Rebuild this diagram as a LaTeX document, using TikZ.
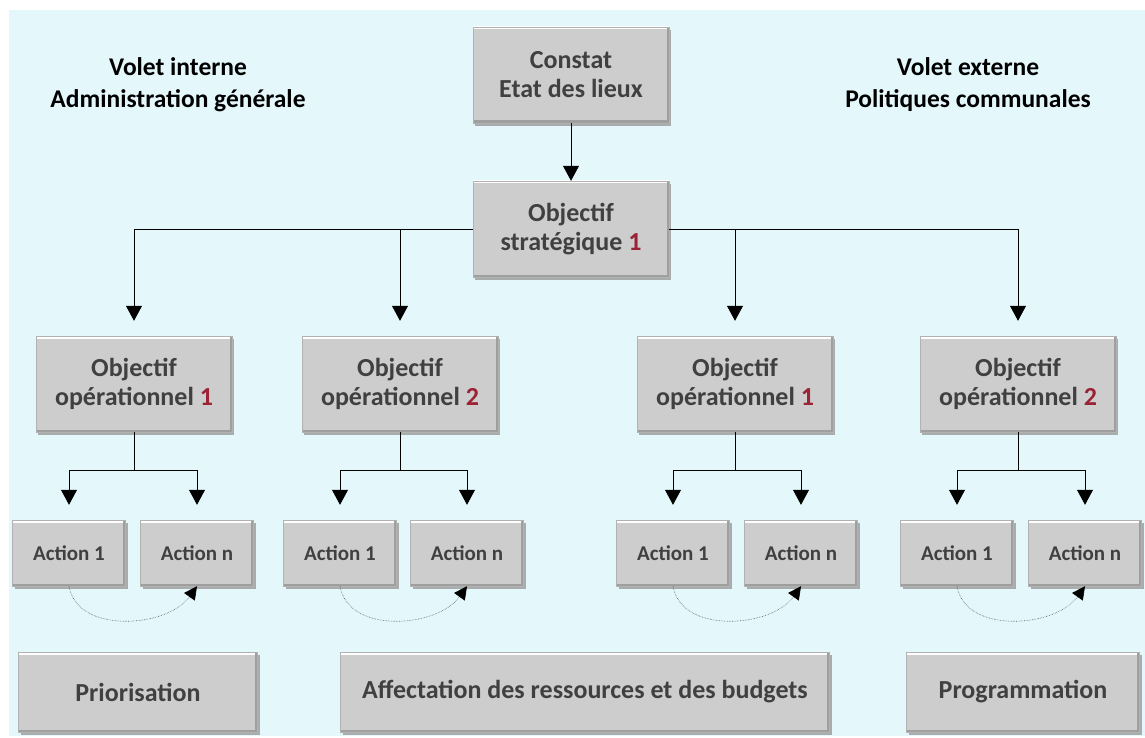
\documentclass[tikz,border=0pt]{standalone}
\usepackage{fontspec}
\setmainfont{Carlito}
\usetikzlibrary{arrows.meta,shadows}
\definecolor{bgcyan}{HTML}{E4F8FC}
\definecolor{boxgray}{HTML}{CDCDCD}
\definecolor{boxtext}{HTML}{404040}
\definecolor{numred}{HTML}{9B2335}
\tikzset{
    box/.style={draw=gray!60, fill=boxgray, text=boxtext, font=\bfseries\fontsize{26}{29}\selectfont,
        align=center, minimum width=196pt, minimum height=96pt, inner sep=0pt,
        drop shadow={shadow xshift=2pt, shadow yshift=-3pt, fill=gray!80, opacity=.8},
        path picture={
            \draw[white, line width=5pt] (path picture bounding box.north west) -- (path picture bounding box.north east);
            \draw[gray!75, line width=5pt] (path picture bounding box.north east) -- (path picture bounding box.south east)
                -- (path picture bounding box.south west);
        }},
    actbox/.style={box, font=\bfseries\fontsize{21}{24}\selectfont, minimum width=113pt, minimum height=66pt},
    bigbox/.style={box, minimum height=80pt},
    heading/.style={align=center, font=\bfseries\fontsize{25.5}{32}\selectfont},
    arr/.style={-{Triangle[width=16pt,length=15pt]}, thick, shorten >=15pt},
    loop arrow/.style={-{Triangle[width=13pt,length=13pt,color=black]}, gray!70!black, densely dotted, semithick},
}
\newcommand{\num}[1]{\textcolor{numred}{#1}}
\begin{document}
\begin{tikzpicture}[x=1pt, y=-1pt]
        %background
        \useasboundingbox (0, 0) rectangle (1145, 738);
        \fill[bgcyan] (9, 10) rectangle (1145, 736);
        %headings
        \node[heading] (intern) at (178, 85) {Volet interne\\Administration générale};
        \node[heading] (extern) at (968, 85) {Volet externe\\Politiques communales};
        %top boxes
        \node[box] (constat) at (571, 75) {Constat\\Etat des lieux};
        \node[box] (strat) at (571, 229) {Objectif\\stratégique \num{1}};
        %operational objectives
        \node[box] (op1) at (134, 384) {Objectif\\opérationnel \num{1}};
        \node[box] (op2) at (400, 384) {Objectif\\opérationnel \num{2}};
        \node[box] (op3) at (735, 384) {Objectif\\opérationnel \num{1}};
        \node[box] (op4) at (1018, 384) {Objectif\\opérationnel \num{2}};
        %actions
        \node[actbox] (a11) at (69, 553) {Action 1};
        \node[actbox] (a1n) at (197, 553) {Action n};
        \node[actbox] (a21) at (340, 553) {Action 1};
        \node[actbox] (a2n) at (467, 553) {Action n};
        \node[actbox] (a31) at (673, 553) {Action 1};
        \node[actbox] (a3n) at (801, 553) {Action n};
        \node[actbox] (a41) at (957, 553) {Action 1};
        \node[actbox] (a4n) at (1085, 553) {Action n};
        %bottom boxes
        \node[bigbox, minimum width=239pt] (prio) at (138, 692) {Priorisation};
        \node[bigbox, minimum width=489pt] (affect) at (585, 692) {Affectation des ressources et des budgets};
        \node[bigbox, minimum width=233pt] (prog) at (1023, 692) {Programmation};
        %connectors
        \draw[arr, shorten >=0pt] (constat) -- (strat);
        \draw[arr] (strat.west) -| (op1.north);
        \draw[arr] (strat.west) -| (op2.north);
        \draw[arr] (strat.east) -| (op3.north);
        \draw[arr] (strat.east) -| (op4.north);
        \foreach \i in {1,2,3,4}{
            \draw[arr] (op\i.south) -- ++(0, 38) -| (a\i1.north);
            \draw[arr] (op\i.south) -- ++(0, 38) -| (a\i n.north);
            \draw[loop arrow] (a\i1.south) .. controls +(8, 48) and +(-30, 42) .. (a\i n.south);
        }
    \end{tikzpicture}
\end{document}
